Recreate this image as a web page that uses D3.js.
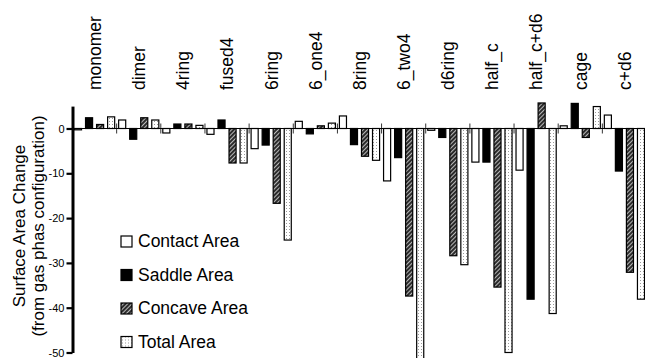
<!DOCTYPE html>
<html>
<head>
<meta charset="utf-8">
<script src="https://cdn.jsdelivr.net/npm/d3@7/dist/d3.min.js"></script>
<style>
  html, body { margin: 0; padding: 0; background: #fff; }
  svg { display: block; }
  text { font-family: "Liberation Sans", Arial, Helvetica, sans-serif; fill: #000; }
</style>
</head>
<body>
<svg id="chart" width="645" height="358"></svg>
<script>
// Cluster configurations
const categories = ["monomer", "dimer", "4ring", "fused4", "6ring", "6_one4", "8ring",
  "6_two4", "d6ring", "half_c", "half_c+d6", "cage", "c+d6"];

// Surface area change per configuration (relative to gas phase)
const contactArea = [-0.3, 1.9, -1.0, -1.3, -4.5, 1.6, 2.8, -11.7, -0.4, -7.5, -9.3, 0.6, 3.0];
const saddleArea  = [2.4, -2.4, 1.0, 1.9, -3.7, -1.2, -3.6, -6.5, -2.0, -7.5, -38.1, 5.6, -9.5];
const concaveArea = [0.9, 2.4, 1.0, -7.7, -16.7, 0.6, -6.2, -37.4, -28.4, -35.4, 5.7, -2.0, -32.1];
const totalArea   = [2.6, 1.9, 0.7, -7.7, -24.9, 1.2, -7.1, -52.0, -30.4, -50.0, -41.3, 4.9, -38.1];

const seriesNames = ["Contact Area", "Saddle Area", "Concave Area", "Total Area"];
const seriesValues = [contactArea, saddleArea, concaveArea, totalArea];
const yTicks = [0, -10, -20, -30, -40, -50];

const svg = d3.select("#chart");

// Fill patterns
const defs = svg.append("defs");
const hatch = defs.append("pattern")
  .attr("id", "hatch").attr("patternUnits", "userSpaceOnUse")
  .attr("width", 3).attr("height", 3)
  .attr("patternTransform", "rotate(45)");
hatch.append("rect").attr("width", 3).attr("height", 3).attr("fill", "#2b2b2b");
hatch.append("line").attr("x1", 0.5).attr("y1", 0).attr("x2", 0.5).attr("y2", 3)
  .attr("stroke", "#c8c8c8").attr("stroke-width", 0.9);

const dots = defs.append("pattern")
  .attr("id", "dots").attr("patternUnits", "userSpaceOnUse")
  .attr("width", 3).attr("height", 3);
dots.append("rect").attr("width", 3).attr("height", 3).attr("fill", "#fff");
dots.append("rect").attr("x", 1).attr("y", 1).attr("width", 1).attr("height", 1).attr("fill", "#9a9a9a");

const fills = ["#fff", "#000", "url(#hatch)", "url(#dots)"];

// Scales
const x = d3.scaleBand().domain(categories).range([72.5, 646.5]).paddingInner(0).paddingOuter(0);
const xs = d3.scaleBand().domain(d3.range(seriesNames.length)).range([0, x.bandwidth()])
  .paddingInner(0.36).paddingOuter(0.18);
const y = d3.scaleLinear().domain([-50, 5]).range([352.5, 106.1]);

// Bars
const rows = [];
categories.forEach((c, i) => {
  seriesValues.forEach((vals, s) => rows.push({ cat: c, s: s, v: vals[i] }));
});

svg.append("g").selectAll("rect").data(rows).join("rect")
  .attr("x", d => x(d.cat) + xs(d.s))
  .attr("width", xs.bandwidth())
  .attr("y", d => y(Math.max(0, d.v)))
  .attr("height", d => Math.max(0.8, Math.abs(y(d.v) - y(0))))
  .attr("fill", d => fills[d.s])
  .attr("stroke", "#000")
  .attr("stroke-width", 1.2);

// Category axis along zero
const zeroY = y(0);
svg.append("line")
  .attr("x1", x.range()[0]).attr("x2", x.range()[1])
  .attr("y1", zeroY).attr("y2", zeroY)
  .attr("stroke", "#000").attr("stroke-width", 1);

const bounds = categories.map(c => x(c)).concat([x.range()[1]]).slice(1);
svg.append("g").selectAll("line").data(bounds).join("line")
  .attr("x1", d => d).attr("x2", d => d)
  .attr("y1", zeroY - 5).attr("y2", zeroY + 5)
  .attr("stroke", "#000").attr("stroke-width", 0.8);

// Category labels, rotated, above the plot
svg.append("g").selectAll("text").data(categories).join("text")
  .attr("transform", d => `translate(${x(d) + x.bandwidth() / 2},90) rotate(-90)`)
  .attr("dy", "0.36em")
  .attr("text-anchor", "start")
  .style("font-size", "17.5px")
  .text(d => d);

// Value axis
const yAxis = svg.append("g")
  .attr("transform", "translate(72.5,0)")
  .call(d3.axisLeft(y).tickValues(yTicks).tickSize(6).tickSizeOuter(0).tickPadding(2)
    .tickFormat(d => String(d)));
yAxis.select(".domain").attr("stroke-width", 3);
yAxis.selectAll(".tick line").attr("stroke-width", 2.2);
yAxis.selectAll(".tick text")
  .style("font-size", "11px")
  .style("font-family", "'Liberation Sans', Arial, sans-serif");

// Axis title
const title = svg.append("text")
  .attr("transform", "translate(0,226) rotate(-90)")
  .attr("text-anchor", "middle")
  .style("font-size", "17px");
title.append("tspan").attr("x", 0).attr("y", 25).text("Surface Area Change");
title.append("tspan").attr("x", 0).attr("y", 44).text("(from gas phas configuration)");

// Legend
const legend = svg.append("g").selectAll("g").data(seriesNames).join("g")
  .attr("transform", (d, i) => `translate(121,${247 + i * 33.5})`);
legend.append("rect")
  .attr("x", 0).attr("y", -11).attr("width", 11).attr("height", 11)
  .attr("fill", (d, i) => fills[i]).attr("stroke", "#000").attr("stroke-width", 1.2);
legend.append("text")
  .attr("x", 17).attr("y", 0)
  .style("font-size", "17.5px")
  .text(d => d);
</script>
</body>
</html>
